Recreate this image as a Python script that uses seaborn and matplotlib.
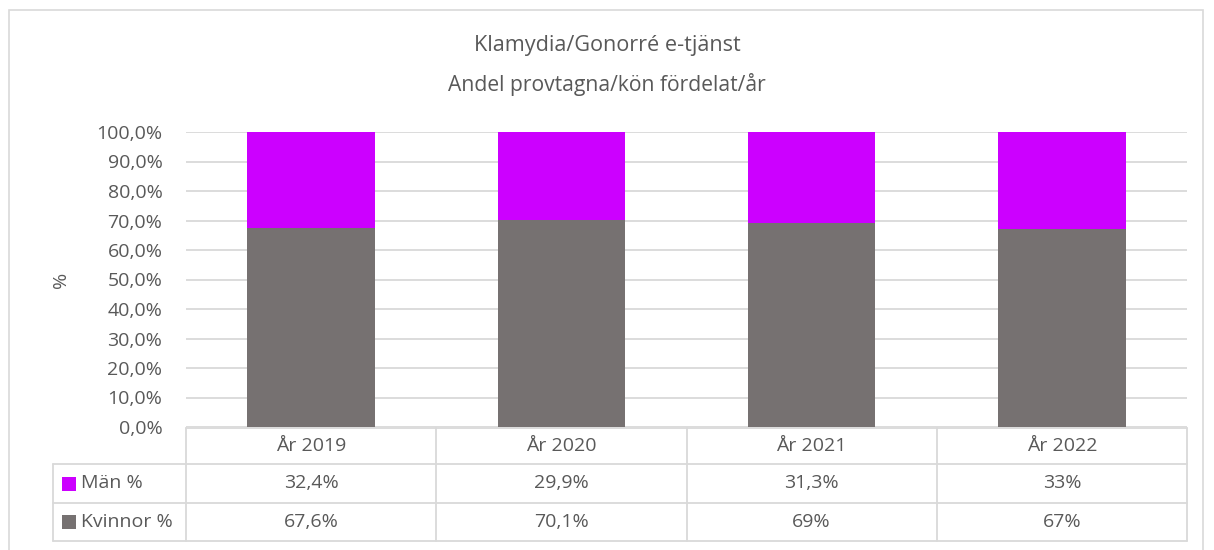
import matplotlib
matplotlib.use("Agg")
import matplotlib.pyplot as plt
import seaborn as sns
import pandas as pd
from matplotlib.patches import Rectangle
from matplotlib.lines import Line2D

years = ["År 2019", "År 2020", "År 2021", "År 2022"]
man = [32.4, 29.9, 31.3, 33]
kvinnor = [67.6, 70.1, 69, 67]
series_names = ["Män %", "Kvinnor %"]
title = "Klamydia/Gonorré e-tjänst"
subtitle = "Andel provtagna/kön fördelat/år"

C_MAN = "#CC00FF"
C_KV = "#767171"
GRID = "#D9D9D9"
TXT = "#595959"
FS = 14

sns.set_theme(style="white")
plt.rcParams["font.family"] = ["Open Sans", "DejaVu Sans"]

W, H = 1214, 550
fig = plt.figure(figsize=(W / 100, H / 100), dpi=100)

def fx(px):
    return px / W

def fy(py):
    return 1 - py / H

x0, x1, ytop, ybot = 186, 1187, 132, 427
ax = fig.add_axes([fx(x0), fy(ybot), fx(x1) - fx(x0), fy(ytop) - fy(ybot)])

df = pd.DataFrame({"year": years, "man": [v / 100 for v in man],
                   "kv": [v / 100 for v in kvinnor]})
df["total"] = df["man"] + df["kv"]

sns.barplot(data=df, x="year", y="total", color=C_MAN, width=0.51,
            ax=ax, saturation=1, edgecolor="none")
sns.barplot(data=df, x="year", y="kv", color=C_KV, width=0.51,
            ax=ax, saturation=1, edgecolor="none")

ax.set_ylim(0, 1)
ax.set_xlim(-0.5, len(years) - 0.5)
ax.set_yticks([i / 10 for i in range(11)])
ax.set_yticklabels([f"{i*10},0%" for i in range(11)], color=TXT, fontsize=FS)
ax.tick_params(axis="y", length=0, pad=17)
ax.set_xticks([])
ax.set_xlabel("")
ax.set_ylabel("")
ax.yaxis.grid(True, color=GRID, linewidth=1.3)
ax.set_axisbelow(True)
for s in ax.spines.values():
    s.set_visible(False)

fig.text(fx(61), fy(280), "%", rotation=90, ha="center", va="center",
         color=TXT, fontsize=FS)

fig.text(0.5, fy(46), title, ha="center", va="center", color=TXT, fontsize=15.6)
fig.text(0.5, fy(84), subtitle, ha="center", va="center", color=TXT, fontsize=15.2)

# outer chart border
fig.patches.append(Rectangle((fx(9), fy(560)), fx(1203) - fx(9), fy(10) - fy(560),
                             transform=fig.transFigure, fill=False,
                             edgecolor=GRID, linewidth=1.2))

# data table
rows_y = [428, 464, 503, 541]
leg_x = 53
colw = (x1 - x0) / len(years)
lk = dict(transform=fig.transFigure, color=GRID, linewidth=1.3)
fig.lines.append(Line2D([fx(x0), fx(x1)], [fy(rows_y[0])] * 2, **lk))
for yy in rows_y[1:]:
    fig.lines.append(Line2D([fx(leg_x), fx(x1)], [fy(yy)] * 2, **lk))
fig.lines.append(Line2D([fx(leg_x)] * 2, [fy(rows_y[1]), fy(rows_y[3])], **lk))
for i in range(len(years) + 1):
    xx = x0 + i * colw
    fig.lines.append(Line2D([fx(xx)] * 2, [fy(rows_y[0]), fy(rows_y[3])], **lk))

def fmt(v):
    if float(v).is_integer():
        return f"{int(v)}%"
    return f"{v:.1f}".replace(".", ",") + "%"

for i, yr in enumerate(years):
    cx = x0 + (i + 0.5) * colw
    fig.text(fx(cx), fy((rows_y[0] + rows_y[1]) / 2), yr, ha="center", va="center",
             color=TXT, fontsize=FS)
    fig.text(fx(cx), fy((rows_y[1] + rows_y[2]) / 2), fmt(man[i]), ha="center",
             va="center", color=TXT, fontsize=FS)
    fig.text(fx(cx), fy((rows_y[2] + rows_y[3]) / 2), fmt(kvinnor[i]), ha="center",
             va="center", color=TXT, fontsize=FS)

for r, (name, col) in enumerate(zip(series_names, [C_MAN, C_KV])):
    ym = (rows_y[r + 1] + rows_y[r + 2]) / 2
    fig.patches.append(Rectangle((fx(62), fy(ym + 7)), fx(14), fy(0) - fy(14),
                                 transform=fig.transFigure, facecolor=col,
                                 edgecolor="none"))
    fig.text(fx(81), fy(ym), name, ha="left", va="center", color=TXT, fontsize=FS)

fig.savefig("out.png", dpi=100, facecolor="white")
